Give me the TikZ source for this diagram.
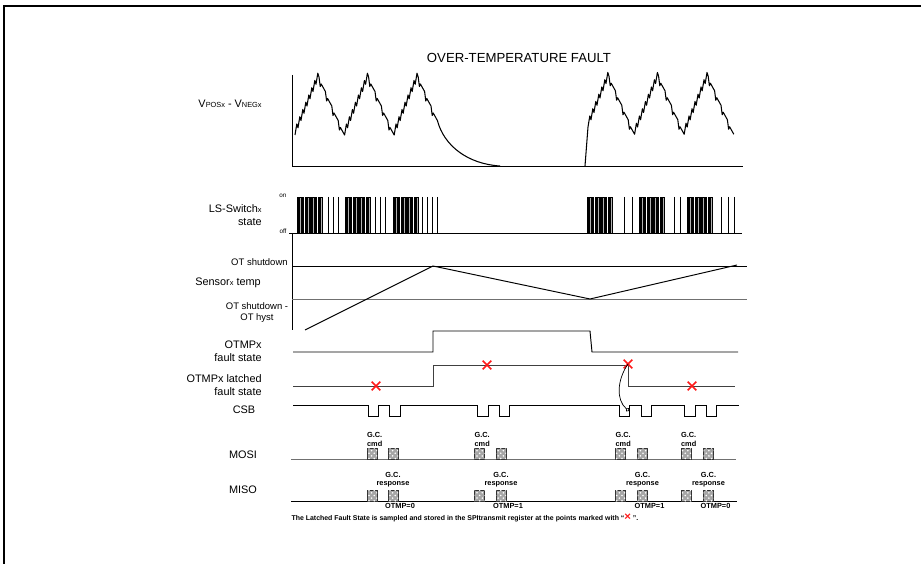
\documentclass[tikz,border=0pt]{standalone}
\usepackage{fontspec}
\setmainfont{Liberation Sans}
\usepackage{tikz}
\usetikzlibrary{arrows.meta, positioning, patterns, shapes.misc}
\definecolor{markred}{HTML}{FF1A1A}
\definecolor{hystline}{HTML}{707070}
\definecolor{latchline}{HTML}{404040}
\newcommand{\lowtxt}[1]{{\fontsize{4.2}{4.2}\selectfont #1}}
\newcommand{\lsburst}[2]{%
  \foreach \dx in {0,2.6,...,23.5}
    \draw[pulse] (#1+\dx,197) rectangle ++(1.4,36);
  \foreach \dx in {#2}
    \draw[sigline] (#1+\dx,197) -- ++(0,36);
}

\begin{document}
\begin{tikzpicture}[x=0.02cm, y=-0.02cm,
    titlelabel/.style={font=\fontsize{7.5}{9}\selectfont, inner sep=0pt},
    siglabel/.style={font=\fontsize{6.2}{7.4}\selectfont, inner sep=0pt, align=right},
    lvlabel/.style={font=\fontsize{5.4}{6.2}\selectfont, inner sep=0pt, align=center},
    onofflabel/.style={font=\fontsize{3.6}{4}\selectfont, inner sep=0pt},
    gclabel/.style={font=\fontsize{4.2}{4.6}\selectfont\bfseries, inner sep=0pt, align=center},
    notelabel/.style={font=\fontsize{3.95}{5}\selectfont\bfseries, inner sep=0pt},
    wave/.style={line width=0.6pt, line join=round},
    sigline/.style={line width=0.55pt},
    pulse/.style={line width=0.3pt, fill=gray!60},
    msgbox/.style={rectangle, draw=black!80, line width=0.3pt, fill=gray!70, postaction={pattern=crosshatch dots, pattern color=white}, minimum width=0.2cm, minimum height=0.22cm, inner sep=0pt},
    xmark/.style={cross out, draw=markred, line width=0.9pt, minimum size=4pt, inner sep=0pt},
]
    \useasboundingbox (0,0) rectangle (921,564);
    % frame
    \draw[line width=0.8pt] (4,564) -- (4,6) -- (921,6);

    \node[titlelabel] (title) at (519,58) {OVER-TEMPERATURE FAULT};

    % VPOS - VNEG
    \node[siglabel, anchor=east] (vdiff) at (262,104) {V\lowtxt{POSx} - V\lowtxt{NEGx}};
    \draw[sigline] (292,75) -- (292,166) -- (743,166);
    \draw[wave] (295,135)
        \foreach \k in {1,...,8}{ -- ++(1.8,-11) -- ++(1.2,3.75) }
        \foreach \k in {1,...,4}{ -- ++(1.2,9.5) -- ++(1,-2.5) -- ++(4.2,7.5) }
        \foreach \k in {1,...,8}{ -- ++(1.8,-11) -- ++(1.2,3.75) }
        \foreach \k in {1,...,4}{ -- ++(1.2,9.5) -- ++(1,-2.5) -- ++(4.2,7.5) }
        \foreach \k in {1,...,8}{ -- ++(1.8,-11) -- ++(1.2,3.75) }
        \foreach \k in {1,...,3}{ -- ++(1.2,9.5) -- ++(1,-2.5) -- ++(4.2,7.5) }
        .. controls (444,146) and (468,164) .. (500,166);
    \draw[wave] (585,166) -- (588,127)
        \foreach \k in {1,...,7}{ -- ++(1.8,-11) -- ++(1.2,3.75) }
        \foreach \k in {1,...,4}{ -- ++(1.2,9.5) -- ++(1,-2.5) -- ++(4.2,7.5) }
        \foreach \k in {1,...,8}{ -- ++(1.8,-11) -- ++(1.2,3.75) }
        \foreach \k in {1,...,4}{ -- ++(1.2,9.5) -- ++(1,-2.5) -- ++(4.2,7.5) }
        \foreach \k in {1,...,8}{ -- ++(1.8,-11) -- ++(1.2,3.75) }
        \foreach \k in {1,...,4}{ -- ++(1.2,9.5) -- ++(1,-2.5) -- ++(4.2,7.5) };

    % low side switch
    \node[siglabel, anchor=east] (lssw) at (262,215.5) {LS-Switch\lowtxt{x}\\state};
    \node[onofflabel] (lson) at (283,196) {on};
    \node[onofflabel] (lsoff) at (283,231) {off};
    \lsburst{297}{31,36,41}
    \lsburst{345}{30,35,40}
    \lsburst{393}{29,34,39,44}
    \lsburst{587}{37,45}
    \lsburst{639}{35,41}
    \lsburst{687}{34,41,47}
    \draw[sigline] (289,233) -- (742,233);

    % sensor temperature
    \draw[sigline] (292,233) -- (292,330);
    \node[lvlabel, anchor=east] (otsd) at (288,262) {OT shutdown};
    \node[siglabel, anchor=west] (stemp) at (195,283) {Sensor\lowtxt{x} temp};
    \node[lvlabel] (othyst) at (257,312.5) {OT shutdown -\\OT hyst};
    \draw[sigline] (292,266) -- (747,266);
    \draw[sigline, hystline] (292,299) -- (747,299);
    \draw[sigline] (305,330) -- (433,266) -- (590,299) -- (737,265);

    % fault state
    \node[siglabel, anchor=east] (flt) at (262,351.5) {OTMPx\\fault state};
    \draw[sigline] (293,352) -- (433,352) -- (433,331) -- (590,331) -- (592,352) -- (738,352);

    % latched fault state
    \node[siglabel, anchor=east] (lflt) at (262,385.5) {OTMPx latched\\fault state};
    \draw[sigline, latchline] (293,386) -- (433,386) -- (433,365) -- (628,365) -- (628,386) -- (735,386);
    \node[xmark] (x1) at (376,386) {};
    \node[xmark] (x2) at (487,365) {};
    \node[xmark] (x3) at (628,364) {};
    \node[xmark] (x4) at (692,386) {};

    % chip select
    \node[siglabel] (csb) at (244,410) {CSB};
    \draw[sigline] (293,405) -| (368,416) -| (378,405) -| (389,416) -| (400,405)
        -| (477,416) -| (488,405) -| (499,416) -| (509,405)
        -| (619,416) -| (629,405) -| (641,416) -| (651,405)
        -| (684,416) -| (695,405) -| (706,416) -| (716,405) -- (739,405);
    \coordinate (csbhit) at (629,411);
    \draw[line width=0.4pt, -{Circle[open, length=2.2pt]}] (x3.center) .. controls (617,380) and (616,400) .. (csbhit);

    % MOSI
    \node[siglabel] (mosi) at (243,455) {MOSI};
    \draw[sigline, hystline] (291,459.5) -- (736,459.5);
    \node[msgbox] (mo1) at (372,454) {};
    \node[msgbox] (mo2) at (393,454) {};
    \node[msgbox] (mo3) at (479.5,454) {};
    \node[msgbox] (mo4) at (501,454) {};
    \node[msgbox] (mo5) at (620.5,454) {};
    \node[msgbox] (mo6) at (642.5,454) {};
    \node[msgbox] (mo7) at (686,454) {};
    \node[msgbox] (mo8) at (708.5,454) {};
    \node[gclabel, align=left, above=1pt of mo1.north west, anchor=south west] (cmd1) {G.C.\\cmd};
    \node[gclabel, align=left, above=1pt of mo3.north west, anchor=south west] (cmd2) {G.C.\\cmd};
    \node[gclabel, align=left, above=1pt of mo5.north west, anchor=south west] (cmd3) {G.C.\\cmd};
    \node[gclabel, align=left, above=1pt of mo7.north west, anchor=south west] (cmd4) {G.C.\\cmd};

    % MISO
    \node[siglabel] (miso) at (243,490) {MISO};
    \draw[sigline] (291,501.5) -- (737,501.5);
    \node[msgbox] (mi1) at (372,496) {};
    \node[msgbox] (mi2) at (393,496) {};
    \node[msgbox] (mi3) at (479.5,496) {};
    \node[msgbox] (mi4) at (501,496) {};
    \node[msgbox] (mi5) at (620.5,496) {};
    \node[msgbox] (mi6) at (642.5,496) {};
    \node[msgbox] (mi7) at (686,496) {};
    \node[msgbox] (mi8) at (708.5,496) {};
    \node[gclabel, above=1.5pt of mi2] (rsp1) {G.C.\\response};
    \node[gclabel, above=1.5pt of mi4] (rsp2) {G.C.\\response};
    \node[gclabel, above=1.5pt of mi6] (rsp3) {G.C.\\response};
    \node[gclabel, above=1.5pt of mi8] (rsp4) {G.C.\\response};
    \node[gclabel, below=0.8pt of mi2, xshift=4pt] (otmp1) {OTMP=0};
    \node[gclabel, below=0.8pt of mi4, xshift=4pt] (otmp2) {OTMP=1};
    \node[gclabel, below=0.8pt of mi6, xshift=4pt] (otmp3) {OTMP=1};
    \node[gclabel, below=0.8pt of mi8, xshift=4pt] (otmp4) {OTMP=0};

    \node[notelabel] (note) at (465,518) {The Latched Fault State is sampled and stored in the SPItransmit register at the points marked with “\textcolor{markred}{\fontsize{6.5}{6.5}\selectfont ×} ”.};
\end{tikzpicture}
\end{document}
